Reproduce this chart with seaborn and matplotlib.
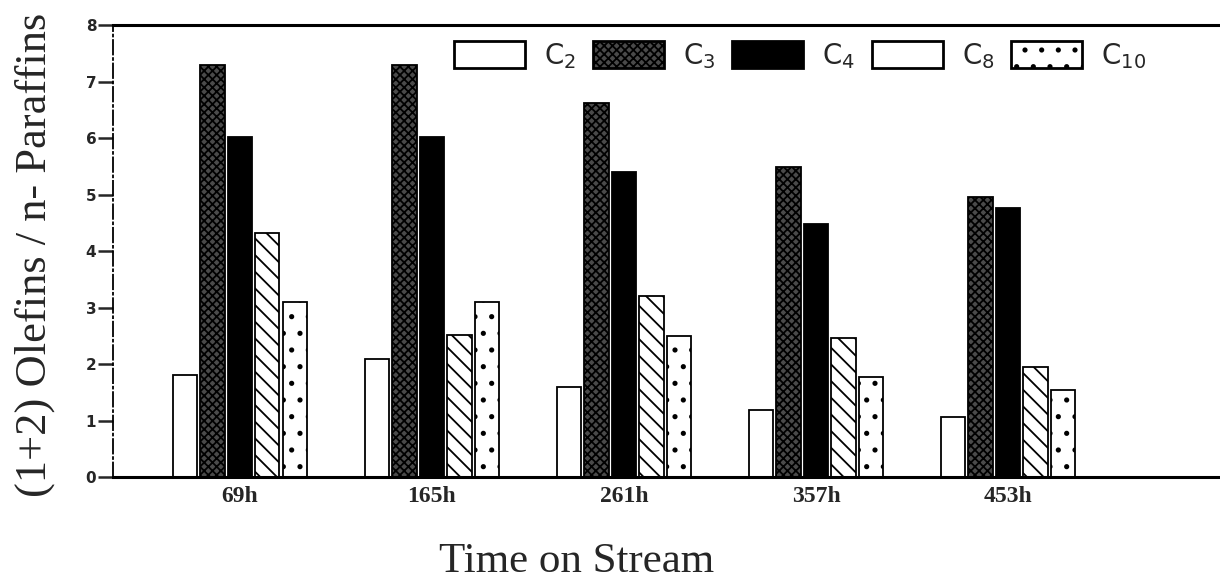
import matplotlib
matplotlib.use("Agg")
import matplotlib.pyplot as plt
from matplotlib.patches import Patch
import seaborn as sns
import pandas as pd

times = ["69h", "165h", "261h", "357h", "453h"]
species = ["C2", "C3", "C4", "C8", "C10"]
legend_labels = [r"C$_2$", r"C$_3$", r"C$_4$", r"C$_8$", r"C$_{10}$"]
c2 = [1.80, 2.10, 1.60, 1.19, 1.07]
c3 = [7.30, 7.30, 6.62, 5.49, 4.96]
c4 = [6.02, 6.02, 5.40, 4.48, 4.76]
c8 = [4.32, 2.52, 3.20, 2.46, 1.95]
c10 = [3.10, 3.10, 2.50, 1.78, 1.55]

rows = []
for sp, vals in zip(species, [c2, c3, c4, c8, c10]):
    for t, v in zip(times, vals):
        rows.append({"time": t, "species": sp, "value": v})
df = pd.DataFrame(rows)

sns.set_style("white")
plt.rcParams["mathtext.default"] = "regular"
plt.rcParams["hatch.linewidth"] = 1.3

fig = plt.figure(figsize=(12.2, 5.82), dpi=100)
ax = fig.add_axes([0.0926, 0.180, 0.9074, 0.777])

faces = ["white", "#4a4a4a", "black", "white", "white"]
hatches = [None, "xxxx", None, "\\\\", "."]

sns.barplot(data=df, x="time", y="value", hue="species", order=times,
            hue_order=species, palette=faces, width=0.716, gap=0.12,
            saturation=1, edgecolor="black", linewidth=1.3, ax=ax,
            legend=False)

for cont, fc, h in zip(ax.containers, faces, hatches):
    for bar in cont:
        bar.set_facecolor(fc)
        bar.set_edgecolor("black")
        if h:
            bar.set_hatch(h)

ax.set_xlim(-0.661, 5.104)
ax.set_ylim(0, 8)
ax.set_yticks(range(0, 9))
ax.tick_params(axis="y", direction="out", length=11, width=1.8, pad=1,
               left=True, labelsize=11)
ax.tick_params(axis="x", length=0, pad=6, labelsize=17)
for lab in ax.get_yticklabels():
    lab.set_fontweight("bold")
for lab in ax.get_xticklabels():
    lab.set_fontweight("bold")
    lab.set_fontfamily("Liberation Serif")

for side in ["top", "bottom"]:
    ax.spines[side].set_visible(True)
    ax.spines[side].set_linewidth(2.2)
    ax.spines[side].set_color("black")
ax.spines["left"].set_linewidth(1.3)
ax.spines["left"].set_linestyle((0, (8, 2, 1, 2)))
ax.spines["left"].set_color("black")
ax.spines["right"].set_visible(False)

ax.set_xlabel("Time on Stream", fontfamily="Liberation Serif", fontsize=31)
ax.xaxis.set_label_coords(0.419, -0.145)
ax.set_ylabel("(1+2) Olefins / n- Paraffins", fontfamily="Liberation Serif",
              fontsize=32)
ax.yaxis.set_label_coords(-0.052, 0.492)

handles = [
    Patch(facecolor="white", edgecolor="black", linewidth=2),
    Patch(facecolor="#4a4a4a", edgecolor="black", hatch="xxxx", linewidth=2),
    Patch(facecolor="black", edgecolor="black", linewidth=2),
    Patch(facecolor="white", edgecolor="black", linewidth=2),
    Patch(facecolor="white", edgecolor="black", hatch=".", linewidth=2),
]
ax.legend(handles, legend_labels, ncol=5, loc="upper left",
          bbox_to_anchor=(0.2855, 1.02), frameon=False, fontsize=20,
          handlelength=2.56, handleheight=1.08, columnspacing=0.6,
          handletextpad=0.68, borderpad=0.4)

fig.savefig("out.png", dpi=100)
